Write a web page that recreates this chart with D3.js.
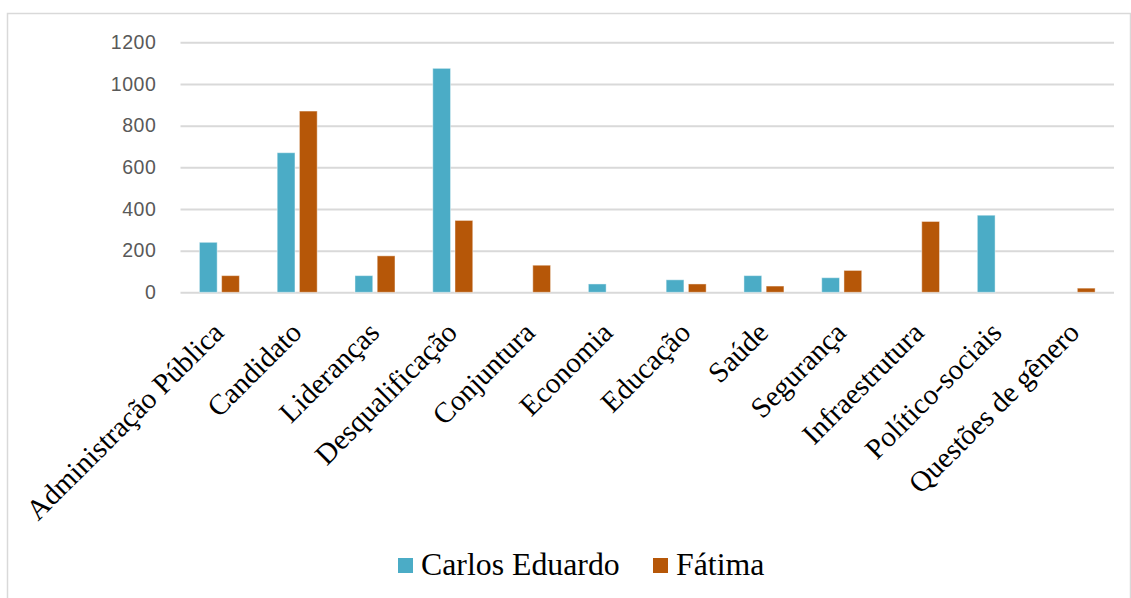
<!DOCTYPE html>
<html>
<head>
<meta charset="utf-8">
<script src="https://cdn.jsdelivr.net/npm/d3@7"></script>
<style>
  html, body { margin: 0; padding: 0; background: #fff; }
  svg { display: block; }
</style>
</head>
<body>
<svg id="chart" width="1131" height="598"></svg>
<script>
// Categories and counts per candidate
const categories = [
  "Administração Pública", "Candidato", "Lideranças", "Desqualificação",
  "Conjuntura", "Economia", "Educação", "Saúde", "Segurança",
  "Infraestrutura", "Político-sociais", "Questões de gênero"
];
const seriesNames = ["Carlos Eduardo", "Fátima"];
const carlosEduardo = [240, 670, 80, 1075, 0, 40, 60, 80, 70, 0, 370, 0];
const fatima = [80, 870, 175, 345, 130, 0, 40, 30, 105, 340, 0, 20];
const yTicks = [0, 200, 400, 600, 800, 1000, 1200];
const colors = ["#4BACC6", "#B65708"];

const seriesValues = [carlosEduardo, fatima];
const svg = d3.select("#chart");

// Outer chart frame
svg.append("rect")
  .attr("x", 7.5).attr("y", 13.5)
  .attr("width", 1123).attr("height", 600)
  .attr("fill", "#fff")
  .attr("stroke", "#d9d9d9").attr("stroke-width", 1.5);

const plot = { left: 180.5, right: 1114, top: 42.3, bottom: 292.3 };

const x = d3.scaleBand().domain(categories).range([plot.left, plot.right]).padding(0);
const xs = d3.scaleBand().domain(seriesNames).range([-20, 20]).paddingInner(0.2);
const y = d3.scaleLinear().domain([0, 1200]).range([plot.bottom, plot.top]);

// Horizontal gridlines
const yAxis = d3.axisLeft(y).tickValues(yTicks).tickFormat(d3.format("d"))
  .tickSize(-(plot.right - plot.left)).tickPadding(24);
const gy = svg.append("g").attr("transform", `translate(${plot.left},0)`).call(yAxis);
gy.select(".domain").remove();
gy.selectAll(".tick line").attr("stroke", "#d9d9d9").attr("stroke-width", 2);
gy.selectAll(".tick text")
  .attr("fill", "#595959")
  .style("font-family", "'Liberation Sans', Arial, sans-serif")
  .style("font-size", "19.5px")
  .style("letter-spacing", "0.6px");

// Bars
seriesNames.forEach((name, si) => {
  svg.append("g").selectAll("rect")
    .data(categories.map((c, i) => ({ c, v: seriesValues[si][i] })).filter(d => d.v > 0))
    .join("rect")
    .attr("x", d => x(d.c) + x.bandwidth() / 2 + xs(name))
    .attr("y", d => y(d.v))
    .attr("width", xs.bandwidth())
    .attr("height", d => y(0) - y(d.v))
    .attr("fill", colors[si])
    .attr("stroke", "rgba(255,255,255,0.45)")
    .attr("stroke-width", 1);
});

// Rotated category labels
const xAxis = d3.axisBottom(x).tickSize(0).tickPadding(0);
const gx = svg.append("g").attr("transform", `translate(0,${plot.bottom})`).call(xAxis);
gx.select(".domain").remove();
gx.selectAll(".tick text")
  .attr("fill", "#000")
  .attr("text-anchor", "end")
  .attr("y", 0).attr("dy", 0)
  .attr("transform", "translate(6,42) rotate(-45)")
  .style("font-family", "'Liberation Serif', 'Times New Roman', serif")
  .style("font-size", "29px");

// Legend
const legendItems = [
  { name: seriesNames[0], color: colors[0], sx: 398, tx: 421 },
  { name: seriesNames[1], color: colors[1], sx: 653, tx: 676 }
];
const lg = svg.append("g");
legendItems.forEach(d => {
  lg.append("rect").attr("x", d.sx).attr("y", 558).attr("width", 15).attr("height", 15).attr("fill", d.color);
  lg.append("text").attr("x", d.tx).attr("y", 575)
    .text(d.name)
    .attr("fill", "#000")
    .style("font-family", "'Liberation Serif', 'Times New Roman', serif")
    .style("font-size", "31.8px");
});
</script>
</body>
</html>
